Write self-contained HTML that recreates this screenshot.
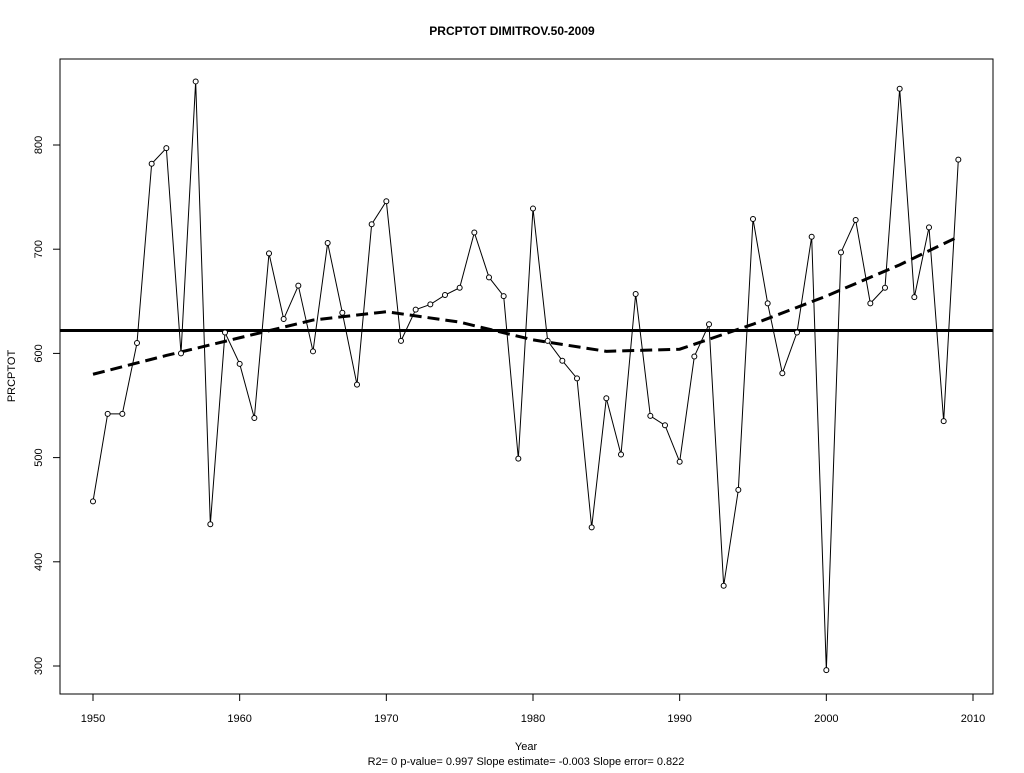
<!DOCTYPE html>
<html><head><meta charset="utf-8"><style>
body{margin:0;background:#fff}
svg text{font-family:"Liberation Sans",Arial,sans-serif;font-size:11px;fill:#000}
</style></head><body>
<svg id="chart" width="1024" height="768" xmlns="http://www.w3.org/2000/svg">
<rect width="1024" height="768" fill="#fff"/>
<text x="512" y="35" text-anchor="middle" font-weight="bold" style="font-size:12px">PRCPTOT    DIMITROV.50-2009</text>
<rect x="60" y="59" width="933" height="635" fill="none" stroke="#000"/>
<text x="526" y="750" text-anchor="middle">Year</text>
<text x="526" y="765" text-anchor="middle">R2= 0  p-value= 0.997  Slope estimate= -0.003  Slope error= 0.822</text>
<text transform="translate(15,376) rotate(-90)" text-anchor="middle">PRCPTOT</text>
<g id="axes"></g>
<g id="marks"></g>
</svg>
<script>
const years=[1950,1951,1952,1953,1954,1955,1956,1957,1958,1959,1960,1961,1962,1963,1964,1965,1966,1967,1968,1969,1970,1971,1972,1973,1974,1975,1976,1977,1978,1979,1980,1981,1982,1983,1984,1985,1986,1987,1988,1989,1990,1991,1992,1993,1994,1995,1996,1997,1998,1999,2000,2001,2002,2003,2004,2005,2006,2007,2008,2009];
const values=[458,542,542,610,782,797,600,861,436,620,590,538,696,633,665,602,706,639,570,724,746,612,642,647,656,663,716,673,655,499,739,612,593,576,433,557,503,657,540,531,496,597,628,377,469,729,648,581,620,712,296,697,728,648,663,854,654,721,535,786];
const meanValue=622;
const trendYears=[1950,1955,1960,1965,1970,1975,1980,1985,1990,1995,2000,2005,2009];
const trendValues=[580,598,615,632,640,630,613,602,604,628,655,685,712];
const xTicks=[1950,1960,1970,1980,1990,2000,2010];
const yTicks=[300,400,500,600,700,800];

const NS="http://www.w3.org/2000/svg";
const xs=y=>93+(y-1950)*(880/60);
const ys=v=>666-(v-300)*(521/500);
function mk(tag,attrs,parent){const e=document.createElementNS(NS,tag);for(const k in attrs)e.setAttribute(k,attrs[k]);parent.appendChild(e);return e;}
const axes=document.getElementById('axes'),marks=document.getElementById('marks');
xTicks.forEach(t=>{
  const l=mk('line',{x1:xs(t),x2:xs(t),y1:694,y2:701,stroke:'#000'},axes);
  
  
  const tx=mk('text',{x:xs(t),y:722,'text-anchor':'middle'},axes);tx.textContent=t;
  
  
});
yTicks.forEach(t=>{
  const l=mk('line',{x1:53,x2:60,y1:ys(t),y2:ys(t),stroke:'#000'},axes);
  
  
  const tx=mk('text',{transform:`translate(42,${ys(t)}) rotate(-90)`,'text-anchor':'middle'},axes);tx.textContent=t;
  
  
});
const mean=mk('line',{x1:60,x2:993,y1:ys(meanValue),y2:ys(meanValue),stroke:'#000','stroke-width':3},marks);


const series=mk('polyline',{points:years.map((y,i)=>xs(y)+','+ys(values[i])).join(' '),fill:'none',stroke:'#000','stroke-width':1},marks);


const trend=mk('polyline',{points:trendYears.map((y,i)=>xs(y)+','+ys(trendValues[i])).join(' '),fill:'none',stroke:'#000','stroke-width':3,'stroke-dasharray':'12,6'},marks);


years.forEach((y,i)=>{
  const c=mk('circle',{cx:xs(y),cy:ys(values[i]),r:2.5,fill:'#fff',stroke:'#000','stroke-width':1},marks);
  
  
});
</script>
</body></html>
